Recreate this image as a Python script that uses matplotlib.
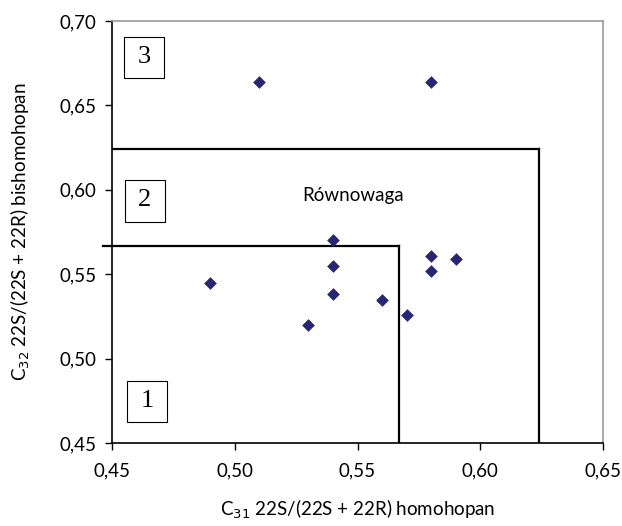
import matplotlib.pyplot as plt
import matplotlib.patches as patches

# C31 homohopan vs C32 bishomohopan isomerization ratios
x_c31 = [0.51, 0.58, 0.49, 0.53, 0.54, 0.54, 0.54, 0.56, 0.57, 0.58, 0.58, 0.59]
y_c32 = [0.664, 0.664, 0.545, 0.520, 0.570, 0.555, 0.538, 0.535, 0.526, 0.561, 0.552, 0.559]

# zone boundaries (equilibrium thresholds)
inner_lim = 0.567
outer_lim = 0.624

x_ticks = [0.45, 0.50, 0.55, 0.60, 0.65]
y_ticks = [0.45, 0.50, 0.55, 0.60, 0.65, 0.70]

plt.rcParams['font.family'] = ['Lato', 'DejaVu Sans']
fs = 13.5

fig = plt.figure(figsize=(6.22, 5.26), dpi=100)
ax = fig.add_axes([112 / 622, 1 - 443 / 526, 491 / 622, 422 / 526])

ax.scatter(x_c31, y_c32, marker='D', s=42, color='#262673', zorder=5, linewidths=0)

# zone lines
ax.plot([0.4465, inner_lim], [inner_lim, inner_lim], color='black', lw=1.6, clip_on=False)
ax.plot([inner_lim, inner_lim], [0.45, inner_lim], color='black', lw=1.6)
ax.plot([0.45, outer_lim], [outer_lim, outer_lim], color='black', lw=1.6)
ax.plot([outer_lim, outer_lim], [0.45, outer_lim], color='black', lw=1.6)

ax.text(0.548, 0.5966, 'Równowaga', fontsize=fs, ha='center', va='center')

# numbered zone boxes
for label, bx, by in [('3', 0.4549, 0.666), ('2', 0.4551, 0.5812), ('1', 0.4561, 0.4622)]:
    ax.add_patch(patches.Rectangle((bx, by), 0.0163, 0.0245, fill=False,
                                   edgecolor='black', lw=0.8, zorder=4))
    ax.text(bx + 0.0082, by + 0.0125, label, fontsize=19, family='Liberation Serif',
            ha='center', va='center')

ax.set_xlim(0.45, 0.65)
ax.set_ylim(0.45, 0.70)
ax.set_xticks(x_ticks)
ax.set_yticks(y_ticks)
ax.set_xticklabels([f'{v:.2f}'.replace('.', ',') for v in x_ticks], fontsize=fs)
ax.set_yticklabels([f'{v:.2f}'.replace('.', ',') for v in y_ticks], fontsize=fs)
ax.tick_params(axis='x', direction='out', length=5, width=1, pad=9)
ax.tick_params(axis='y', direction='out', length=5, width=1, pad=6)

ax.spines['left'].set_color('black')
ax.spines['bottom'].set_color('black')
ax.spines['top'].set_color('#999999')
ax.spines['right'].set_color('#999999')
for s in ax.spines.values():
    s.set_linewidth(1.2)

ax.set_xlabel('C$_{31}$ 22S/(22S + 22R) homohopan', fontsize=fs, labelpad=13)
ax.set_ylabel('C$_{32}$ 22S/(22S + 22R) bishomohopan', fontsize=fs, labelpad=20)

fig.savefig('out.png', dpi=100)
